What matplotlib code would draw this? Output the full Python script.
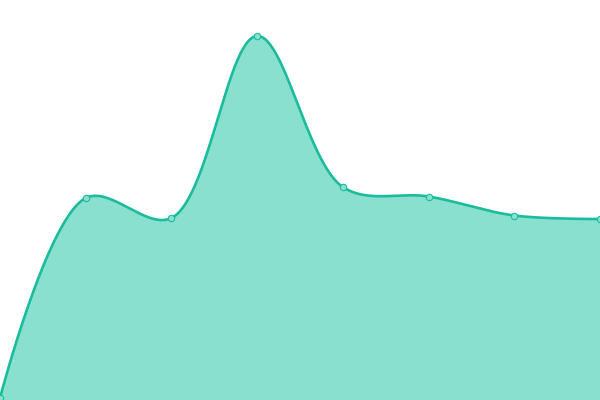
import numpy as np
import matplotlib
matplotlib.use("Agg")
import matplotlib.pyplot as plt

categories = ["A", "B", "C", "D", "E", "F", "G", "H"]
values = [2, 202, 182, 364, 213, 203.5, 184.5, 181]

LINE = "#1abc9c"
FILL = "#89e0cf"
W, H, YMAX = 600.0, 400.0, 400.0


def catmull_rom_d3(x, y, alpha=0.5, n=60):
    sx = W / (len(x) - 1)
    sy = H / YMAX
    P = np.column_stack([np.asarray(x, float) * sx, np.asarray(y, float) * sy])
    ext = np.vstack([P[0], P, P[-1]])
    t = np.linspace(0, 1, n)[:, None]
    segs = []
    for i in range(1, len(ext) - 2):
        p0, p1, p2, p3 = ext[i - 1], ext[i], ext[i + 1], ext[i + 2]
        l01 = np.hypot(*(p1 - p0)); l12 = np.hypot(*(p2 - p1)); l23 = np.hypot(*(p3 - p2))
        l01a, l12a, l23a = l01 ** alpha, l12 ** alpha, l23 ** alpha
        l01_2a, l12_2a, l23_2a = l01a ** 2, l12a ** 2, l23a ** 2
        c1 = p1.copy()
        c2 = p2.copy()
        if l01a > 1e-9:
            a = 2 * l01_2a + 3 * l01a * l12a + l12_2a
            m = 3 * l01a * (l01a + l12a)
            c1 = (p1 * a - p0 * l12_2a + p2 * l01_2a) / m
        if l23a > 1e-9:
            b = 2 * l23_2a + 3 * l23a * l12a + l12_2a
            m = 3 * l23a * (l23a + l12a)
            c2 = (p2 * b + p1 * l23_2a - p3 * l12_2a) / m
        bz = ((1 - t) ** 3 * p1 + 3 * (1 - t) ** 2 * t * c1
              + 3 * (1 - t) * t ** 2 * c2 + t ** 3 * p2)
        segs.append(bz if i == 1 else bz[1:])
    c = np.vstack(segs)
    return c[:, 0] / sx, c[:, 1] / sy


fig = plt.figure(figsize=(6, 4), dpi=100)
ax = fig.add_axes([0, 0, 1, 1])
xi = np.arange(len(categories))
cx, cy = catmull_rom_d3(xi, values)
ax.fill_between(cx, cy, 0, color=FILL, linewidth=0)
ax.plot(cx, cy, color=LINE, linewidth=1.9, solid_capstyle="round")
ax.plot(xi, values, "o", markersize=4.6, markerfacecolor=FILL,
        markeredgecolor=LINE, markeredgewidth=0.8)
ax.set_xlim(0, len(categories) - 1)
ax.set_ylim(0, YMAX)
ax.axis("off")
fig.savefig("out.png", dpi=100)
